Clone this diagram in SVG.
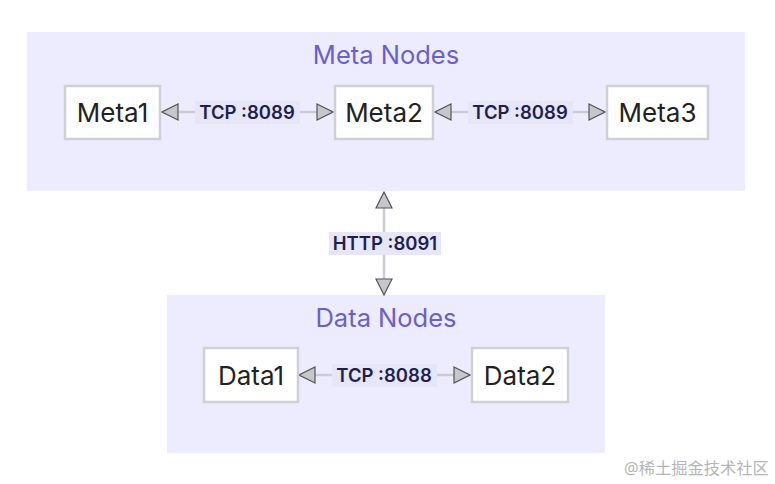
<svg xmlns="http://www.w3.org/2000/svg" width="775" height="484" viewBox="0 0 775 484">
<style>
.cluster{fill:#ececfe;stroke:none}
.ctitle{font-family:Inter,"Noto Sans",sans-serif;font-size:25.5px;fill:#6a5fcb;text-anchor:middle}
.node rect{fill:#ffffff;stroke:#cfcfd6;stroke-width:2.5}
.node text{font-family:Inter,"Noto Sans",sans-serif;font-size:26px;fill:#222;text-anchor:middle;dominant-baseline:central}
.edge{stroke:#cbcbd3;stroke-width:2.5;fill:none}
.elabel{font-family:Inter,"Noto Sans",sans-serif;font-size:18.5px;font-weight:600;fill:#1f1f4f;text-anchor:middle;dominant-baseline:central}
.lbg{fill:#e6e6f6}
.wm{font-family:"Noto Sans","Noto Sans CJK SC",sans-serif;font-size:16.3px;fill:#b5b5b5}
</style>
<defs>
<marker id="ahb" viewBox="0 0 18 18" refX="17" refY="9" markerWidth="18" markerHeight="18" markerUnits="userSpaceOnUse" orient="auto-start-reverse">
<path d="M1,1 L17,9 L1,17 Z" fill="#c6c6cc" stroke="#555" stroke-width="1.2"/>
</marker>
</defs>
<rect width="775" height="484" fill="#ffffff"/>
<g id="meta-cluster">
<rect class="cluster" x="27" y="32" width="718" height="159"/>
<text class="ctitle" x="386" y="64">Meta Nodes</text>
</g>
<g id="data-cluster">
<rect class="cluster" x="167" y="295" width="438" height="158"/>
<text class="ctitle" x="386" y="327">Data Nodes</text>
</g>
<g id="connectors">
<line class="edge" x1="162" y1="112" x2="333" y2="112" marker-start="url(#ahb)" marker-end="url(#ahb)"/>
<rect class="lbg" x="195" y="101" width="105" height="23"/>
<text class="elabel" x="247" y="112">TCP :8089</text>
<line class="edge" x1="435" y1="112" x2="605" y2="112" marker-start="url(#ahb)" marker-end="url(#ahb)"/>
<rect class="lbg" x="468" y="101" width="105" height="23"/>
<text class="elabel" x="520" y="112">TCP :8089</text>
<line class="edge" x1="384" y1="192" x2="384" y2="295" marker-start="url(#ahb)" marker-end="url(#ahb)"/>
<rect class="lbg" x="329" y="232" width="112" height="23"/>
<text class="elabel" x="385" y="243">HTTP :8091</text>
<line class="edge" x1="299" y1="375" x2="470" y2="375" marker-start="url(#ahb)" marker-end="url(#ahb)"/>
<rect class="lbg" x="332" y="364" width="105" height="23"/>
<text class="elabel" x="384" y="375">TCP :8088</text>
</g>
<g id="meta1" class="node"><rect x="65" y="86" width="95" height="53"/><text x="112.5" y="112.5">Meta1</text></g>
<g id="meta2" class="node"><rect x="335" y="86" width="98" height="53"/><text x="384" y="112.5">Meta2</text></g>
<g id="meta3" class="node"><rect x="607" y="86" width="101" height="53"/><text x="657.5" y="112.5">Meta3</text></g>
<g id="data1" class="node"><rect x="204" y="348" width="94" height="54"/><text x="251" y="375">Data1</text></g>
<g id="data2" class="node"><rect x="472" y="348" width="96" height="54"/><text x="520" y="375">Data2</text></g>
<text class="wm" x="624" y="474">@稀土掘金技术社区</text>
</svg>
